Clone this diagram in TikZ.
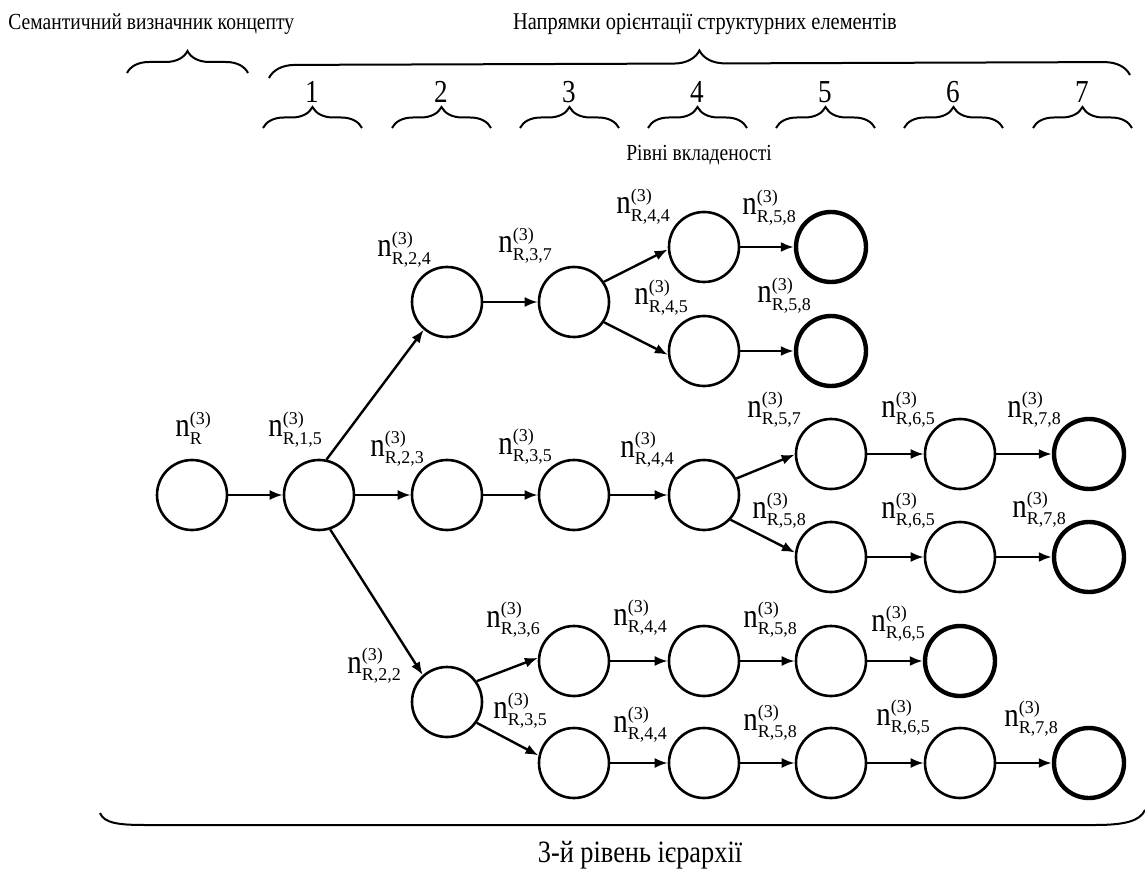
\documentclass[tikz,border=0pt]{standalone}
\usepackage{fontspec}
\setmainfont{Liberation Serif}[FakeStretch=0.85]
\newfontfamily\idxfont{Liberation Serif}
\usetikzlibrary{arrows.meta,decorations.pathreplacing}
% label n^{(3)}_{...}
\newcommand\nlabel[1]{{\fontsize{17}{17}\selectfont n}\rlap{\raisebox{6.3pt}{\idxfont\fontsize{9}{9}\selectfont (3)}}\raisebox{-3.8pt}{\idxfont\fontsize{9}{9}\selectfont #1}}
\begin{document}
\begin{tikzpicture}[x=0.5pt,y=-0.5pt,
  state/.style={circle, draw, line width=1.3pt, minimum size=35pt, inner sep=0pt},
  final/.style={state, line width=2.2pt},
  edge/.style={line width=1.2pt, -{Latex[length=6.5pt,width=5pt]}},
  lab/.style={anchor=base west, inner sep=0pt},
  cbrace/.style={decorate, decoration={brace, amplitude=#1}, line width=1pt},
  smalltext/.style={inner sep=0pt, font=\fontsize{11.5}{12}\selectfont},
  numtext/.style={anchor=base, inner sep=0pt, font=\fontsize{16}{16}\selectfont}]
\useasboundingbox (0,0) rectangle (1145,871);

% headings
\node[smalltext, anchor=base west] (tsem) at (8,30) {Семантичний визначник концепту};
\node[smalltext, anchor=base, font=\fontsize{12}{12}\selectfont] (tdir) at (705,30) {Напрямки орієнтації структурних елементів};
\node[smalltext, anchor=base] (tlev) at (699,161) {Рівні вкладеності};
\node[inner sep=0pt, anchor=base, font=\fontsize{15.5}{16}\selectfont] (thier) at (640,862) {3-й рівень ієрархії};

% braces
\coordinate (bs1) at (127,73); \coordinate (bs2) at (248,73);
\draw[cbrace=11pt] (bs1) -- (bs2);
\coordinate (bb1) at (269,78); \coordinate (bb2) at (1130,75);
\draw[cbrace=13pt] (bb1) -- (bb2);
\foreach \i/\xc in {1/312,2/441,3/569,4/697,5/825,6/953,7/1082}{
  \coordinate (bl\i) at (\xc-49,128);
  \coordinate (br\i) at (\xc+50,128);
  \draw[cbrace=10.5pt] (bl\i) -- (br\i);
  \node[numtext] (num\i) at (\xc,103) {\i};
}
% bottom bracket
\coordinate (bot1) at (100,813); \coordinate (bot2) at (1145,810);
\draw[line width=1pt] (bot1) .. controls (104,823) and (118,825) .. (145,825)
  -- (1095,825) .. controls (1125,825) and (1140,821) .. (bot2);

% nodes
\node[state] (n0)   at (192,495) {};
\node[state] (n15)  at (319,495) {};
\node[state] (n24)  at (447,302) {};
\node[state] (n23)  at (447,495) {};
\node[state] (n22)  at (447,702) {};
\node[state] (n37)  at (574,302) {};
\node[state] (n35)  at (574,495) {};
\node[state] (n36)  at (574,661) {};
\node[state] (n35b) at (574,763) {};
\node[state] (n44a) at (704,247) {};
\node[state] (n45)  at (704,351) {};
\node[state] (n44m) at (704,495) {};
\node[state] (n44c) at (704,661) {};
\node[state] (n44d) at (704,763) {};
\node[final] (n58a) at (831,247) {};
\node[final] (n58b) at (831,351) {};
\node[state] (n57)  at (831,454) {};
\node[state] (n58m) at (831,557) {};
\node[state] (n58c) at (831,661) {};
\node[state] (n58d) at (831,763) {};
\node[state] (n65a) at (960,454) {};
\node[state] (n65m) at (960,557) {};
\node[final] (n65c) at (960,661) {};
\node[state] (n65d) at (960,763) {};
\node[final] (n78a) at (1089,454) {};
\node[final] (n78m) at (1089,557) {};
\node[final] (n78d) at (1089,763) {};

% labels
\node[lab] (l0)   at (175,437) {\nlabel{R}};
\node[lab] (l15)  at (268,437) {\nlabel{R,1,5}};
\node[lab] (l24)  at (377,257) {\nlabel{R,2,4}};
\node[lab] (l23)  at (370,456) {\nlabel{R,2,3}};
\node[lab] (l22)  at (347,673) {\nlabel{R,2,2}};
\node[lab] (l37)  at (498,253) {\nlabel{R,3,7}};
\node[lab] (l35)  at (498,454) {\nlabel{R,3,5}};
\node[lab] (l36)  at (486,627) {\nlabel{R,3,6}};
\node[lab] (l35b) at (493,718) {\nlabel{R,3,5}};
\node[lab] (l44a) at (616,214) {\nlabel{R,4,4}};
\node[lab] (l45)  at (634,305) {\nlabel{R,4,5}};
\node[lab] (l44m) at (620,457) {\nlabel{R,4,4}};
\node[lab] (l44c) at (613,625) {\nlabel{R,4,4}};
\node[lab] (l44d) at (613,732) {\nlabel{R,4,4}};
\node[lab] (l58a) at (742,215) {\nlabel{R,5,8}};
\node[lab] (l58b) at (757,303) {\nlabel{R,5,8}};
\node[lab] (l57)  at (747,417) {\nlabel{R,5,7}};
\node[lab] (l58m) at (752,518) {\nlabel{R,5,8}};
\node[lab] (l58c) at (743,627) {\nlabel{R,5,8}};
\node[lab] (l58d) at (743,730) {\nlabel{R,5,8}};
\node[lab] (l65a) at (881,417) {\nlabel{R,6,5}};
\node[lab] (l65m) at (881,518) {\nlabel{R,6,5}};
\node[lab] (l65c) at (871,631) {\nlabel{R,6,5}};
\node[lab] (l65d) at (876,725) {\nlabel{R,6,5}};
\node[lab] (l78a) at (1007,417) {\nlabel{R,7,8}};
\node[lab] (l78m) at (1012,517) {\nlabel{R,7,8}};
\node[lab] (l78d) at (1004,726) {\nlabel{R,7,8}};

% connectors
\draw[edge] (n0) -- (n15);
\draw[edge] (n15.78) -- (n24.230);
\draw[edge] (n15) -- (n23);
\draw[edge] (n15.-72) -- (n22.132);
\draw[edge] (n24) -- (n37);
\draw[edge] (n23) -- (n35);
\draw[edge] (n37.34) -- (n44a.184);
\draw[edge] (n37.-34) -- (n45.186);
\draw[edge] (n35) -- (n44m);
\draw[edge] (n44a) -- (n58a);
\draw[edge] (n45) -- (n58b);
\draw[edge] (n44m.27) -- (n57.181);
\draw[edge] (n44m.-43) -- (n58m.173);
\draw[edge] (n57) -- (n65a);
\draw[edge] (n65a) -- (n78a);
\draw[edge] (n58m) -- (n65m);
\draw[edge] (n65m) -- (n78m);
\draw[edge] (n22.35) -- (n36.175);
\draw[edge] (n22.-35) -- (n35b.168);
\draw[edge] (n36) -- (n44c);
\draw[edge] (n44c) -- (n58c);
\draw[edge] (n58c) -- (n65c);
\draw[edge] (n35b) -- (n44d);
\draw[edge] (n44d) -- (n58d);
\draw[edge] (n58d) -- (n65d);
\draw[edge] (n65d) -- (n78d);
\end{tikzpicture}
\end{document}
